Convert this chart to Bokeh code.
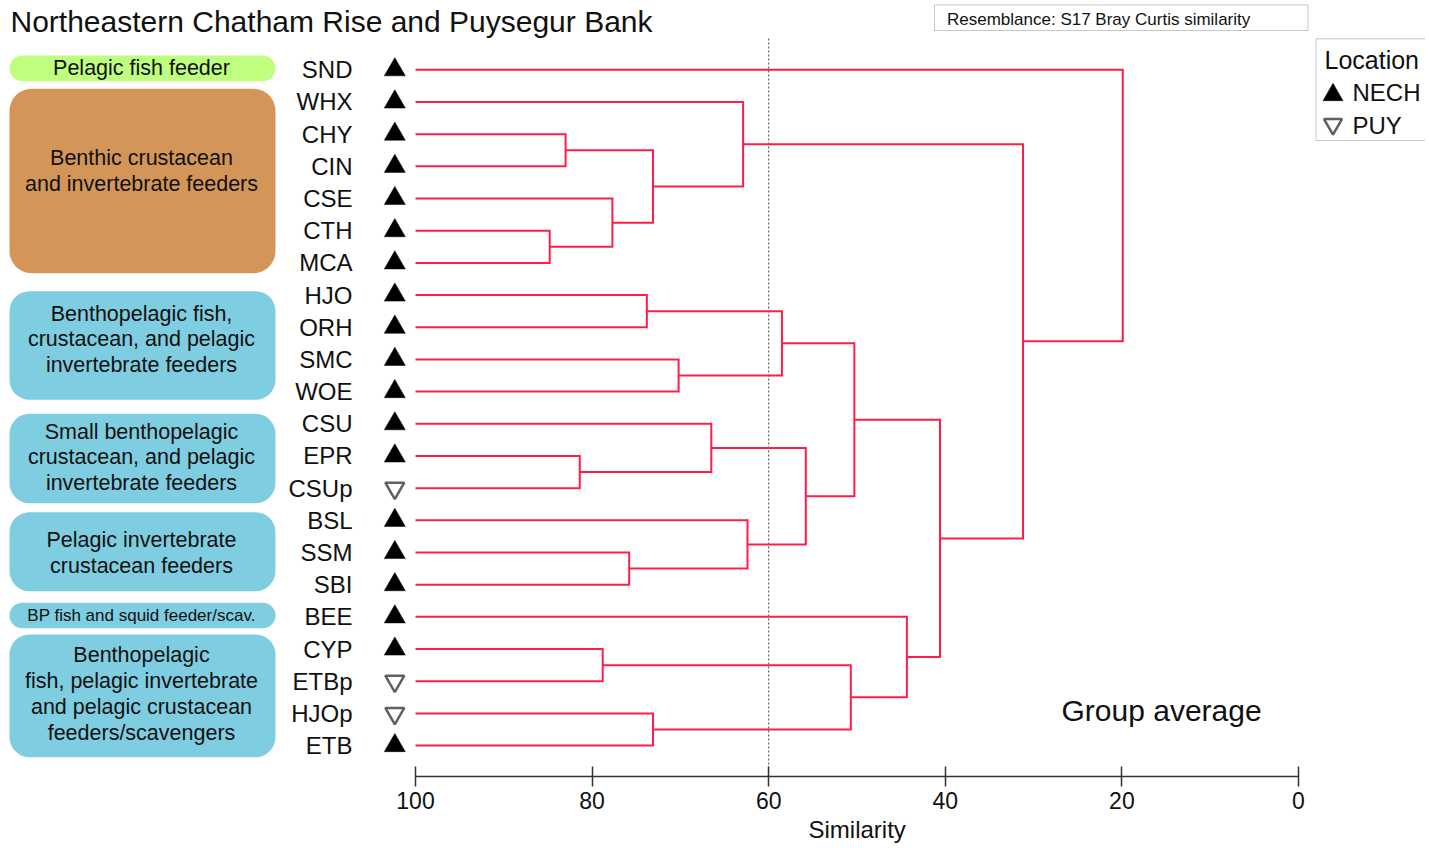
from bokeh.plotting import figure
from bokeh.models import Range1d, LinearAxis, FixedTicker, BoxAnnotation, Title
from bokeh.core.properties import value
from bokeh.embed import file_html
from bokeh.resources import INLINE

# ---------------- data ----------------
leaves = ["SND", "WHX", "CHY", "CIN", "CSE", "CTH", "MCA", "HJO", "ORH", "SMC", "WOE",
          "CSU", "EPR", "CSUp", "BSL", "SSM", "SBI", "BEE", "CYP", "ETBp", "HJOp", "ETB"]
locations = ["NECH", "NECH", "NECH", "NECH", "NECH", "NECH", "NECH", "NECH", "NECH", "NECH", "NECH",
             "NECH", "NECH", "PUY", "NECH", "NECH", "NECH", "NECH", "NECH", "PUY", "PUY", "NECH"]

# group-average merges ("#k" = result of merge k)
merge_left = ["CHY", "CTH", "CSE", "#0", "WHX", "HJO", "SMC", "#5", "EPR", "CSU", "SSM",
              "BSL", "#9", "#7", "CYP", "HJOp", "#14", "BEE", "#13", "#4", "SND"]
merge_right = ["CIN", "MCA", "#1", "#2", "#3", "ORH", "WOE", "#6", "CSUp", "#8", "SBI",
               "#10", "#11", "#12", "ETBp", "ETB", "#15", "#16", "#17", "#18", "#19"]
merge_similarity = [83.0, 84.8, 77.7, 73.1, 62.9, 73.8, 70.2, 58.5, 81.4, 66.5, 75.8,
                    62.4, 55.8, 50.3, 78.8, 73.1, 50.7, 44.35, 40.6, 31.2, 19.9]

group_labels = ["Pelagic fish feeder",
                "Benthic crustacean\nand invertebrate feeders",
                "Benthopelagic fish,\ncrustacean, and pelagic\ninvertebrate feeders",
                "Small benthopelagic\ncrustacean, and pelagic\ninvertebrate feeders",
                "Pelagic invertebrate\ncrustacean feeders",
                "BP fish and squid feeder/scav.",
                "Benthopelagic\nfish, pelagic invertebrate\nand pelagic crustacean\nfeeders/scavengers"]
group_colors = ["#bfff80", "#d49658", "#7ecde0", "#7ecde0", "#7ecde0", "#7ecde0", "#7ecde0"]

axis_ticks = [0, 20, 40, 60, 80, 100]
cut_similarity = 60
title_text = "Northeastern Chatham Rise and Puysegur Bank"
resemblance_text = "Resemblance: S17 Bray Curtis similarity"
method_text = "Group average"
axis_title = "Similarity"
legend_title = "Location"
legend_items = ["NECH", "PUY"]

# ---------------- layout helpers (page pixel -> data) ----------------
PX_PER_SIM = (1298 - 415) / 100.0
ROW0, ROW_H = 69.3, 32.18
FRAME_W, FRAME_H = 1425, 776


def sx(page_x):
    return 100 - (page_x - 415) / PX_PER_SIM


def sy(page_y):
    return (page_y - ROW0) / ROW_H


FONT = value("Liberation Sans")
INK = "#111111"

p = figure(frame_width=FRAME_W, frame_height=FRAME_H,
           x_range=Range1d(sx(0), sx(FRAME_W)), y_range=Range1d(sy(FRAME_H), sy(0)),
           x_axis_type=None, y_axis_type=None, toolbar_location=None,
           output_backend="svg", min_border_left=0, min_border_right=0,
           min_border_top=0, min_border_bottom=0, outline_line_color=None,
           background_fill_color="white", border_fill_color="white")
p.xgrid.visible = False
p.ygrid.visible = False

# ---------------- dendrogram ----------------
pos = {name: (100.0, i) for i, name in enumerate(leaves)}
xs, ys = [], []
for k, (a, b, s) in enumerate(zip(merge_left, merge_right, merge_similarity)):
    ax_, ay_ = pos[a]
    bx_, by_ = pos[b]
    xs.append([ax_, s, s, bx_])
    ys.append([ay_, ay_, by_, by_])
    pos["#%d" % k] = (s, (ay_ + by_) / 2.0)

# cut line
p.segment(x0=[cut_similarity], y0=[sy(38)], x1=[cut_similarity], y1=[sy(FRAME_H)],
          line_color="#444444", line_width=1, line_dash="2 2")

p.multi_line(xs=xs, ys=ys, line_color="#ff1e48", line_width=2, line_join="miter")

# ---------------- leaf labels and symbols ----------------
rows = list(range(len(leaves)))
p.text(x=[sx(352)] * len(leaves), y=rows, text=leaves, text_font=FONT,
       text_font_size="24px", text_align="right", text_baseline="middle", text_color=INK)

nech_rows = [r for r, loc in zip(rows, locations) if loc == "NECH"]
puy_rows = [r for r, loc in zip(rows, locations) if loc == "PUY"]
p.scatter(x=[sx(394.3)] * len(nech_rows), y=nech_rows, marker="triangle", size=21,
          fill_color="black", line_color="black", line_width=0.5)
p.scatter(x=[sx(394.3)] * len(puy_rows), y=puy_rows, marker="inverted_triangle", size=19,
          fill_color="white", line_color="#606060", line_width=2.5)

# ---------------- group boxes ----------------
box_top_px = [55, 88.3, 290.7, 413.3, 511.7, 602.3, 634]
box_bottom_px = [80.7, 272.7, 399.3, 502.7, 590.7, 627.7, 756.7]
box_radius = [13, 22, 20, 20, 20, 13, 20]
label_y_px = [67.5, 170.5, 339.0, 457.0, 552.5, 615.0, 693.5]
label_size = ["21.5px", "21.5px", "21.5px", "21.5px", "21.5px", "17px", "21.5px"]

for top, bot, rad, col in zip(box_top_px, box_bottom_px, box_radius, group_colors):
    p.add_layout(BoxAnnotation(left=sx(9), right=sx(275), top=sy(top), bottom=sy(bot),
                               fill_color=col, fill_alpha=1, line_color=None,
                               border_radius=rad, level="underlay"))

for lab, ly, fs in zip(group_labels, label_y_px, label_size):
    p.text(x=[sx(141)], y=[sy(ly)], text=[lab], text_font=FONT, text_font_size=fs,
           text_align="center", text_baseline="middle", text_color=INK,
           text_line_height=1.07)

# ---------------- title and notes ----------------
p.text(x=[sx(10)], y=[sy(20.5)], text=[title_text], text_font=FONT, text_font_size="30px",
       text_align="left", text_baseline="middle", text_color=INK)

p.add_layout(BoxAnnotation(left=sx(934), right=sx(1307.5), top=sy(4.5), bottom=sy(30),
                           fill_color="white", fill_alpha=1, line_color="#444444",
                           line_width=1, level="underlay"))
p.text(x=[sx(946.5)], y=[sy(18.5)], text=[resemblance_text], text_font=FONT,
       text_font_size="17px", text_align="left", text_baseline="middle", text_color=INK)

p.text(x=[sx(1061)], y=[sy(710)], text=[method_text], text_font=FONT,
       text_font_size="30px", text_align="left", text_baseline="middle", text_color=INK)

# ---------------- legend (drawn) ----------------
p.add_layout(BoxAnnotation(left=sx(1315.5), right=sx(1445), top=sy(38.3), bottom=sy(140),
                           fill_color="white", fill_alpha=1, line_color="#444444",
                           line_width=1, level="underlay"))
p.text(x=[sx(1324)], y=[sy(59.5)], text=[legend_title], text_font=FONT, text_font_size="25px",
       text_align="left", text_baseline="middle", text_color=INK)
p.text(x=[sx(1352)] * 2, y=[sy(92), sy(124.5)], text=legend_items, text_font=FONT,
       text_font_size="24px", text_align="left", text_baseline="middle", text_color=INK)
p.scatter(x=[sx(1332.5)], y=[sy(94.4)], marker="triangle", size=20,
          fill_color="black", line_color="black", line_width=0.5)
p.scatter(x=[sx(1332.5)], y=[sy(123.8)], marker="inverted_triangle", size=18,
          fill_color="white", line_color="#606060", line_width=2.5)

# ---------------- axis ----------------
xaxis = LinearAxis(ticker=FixedTicker(ticks=axis_ticks), bounds=(0, 100))
xaxis.major_tick_in = 10
xaxis.major_tick_out = 10
xaxis.minor_tick_line_color = None
xaxis.axis_line_color = "#333333"
xaxis.axis_line_width = 1.5
xaxis.major_tick_line_color = "#333333"
xaxis.major_tick_line_width = 1.5
xaxis.major_label_text_font = "Liberation Sans"
xaxis.major_label_text_font_size = "23px"
xaxis.major_label_text_color = INK
xaxis.major_label_standoff = 5
p.add_layout(xaxis, "below")

# axis title centred under the 100..0 scale
sim_title = Title(text=axis_title, align="left", offset=808, standoff=4,
                  text_font="Liberation Sans", text_font_size="24px",
                  text_font_style="normal", text_color=INK)
p.add_layout(sim_title, "below")

open("out.html", "w").write(file_html(p, INLINE))
